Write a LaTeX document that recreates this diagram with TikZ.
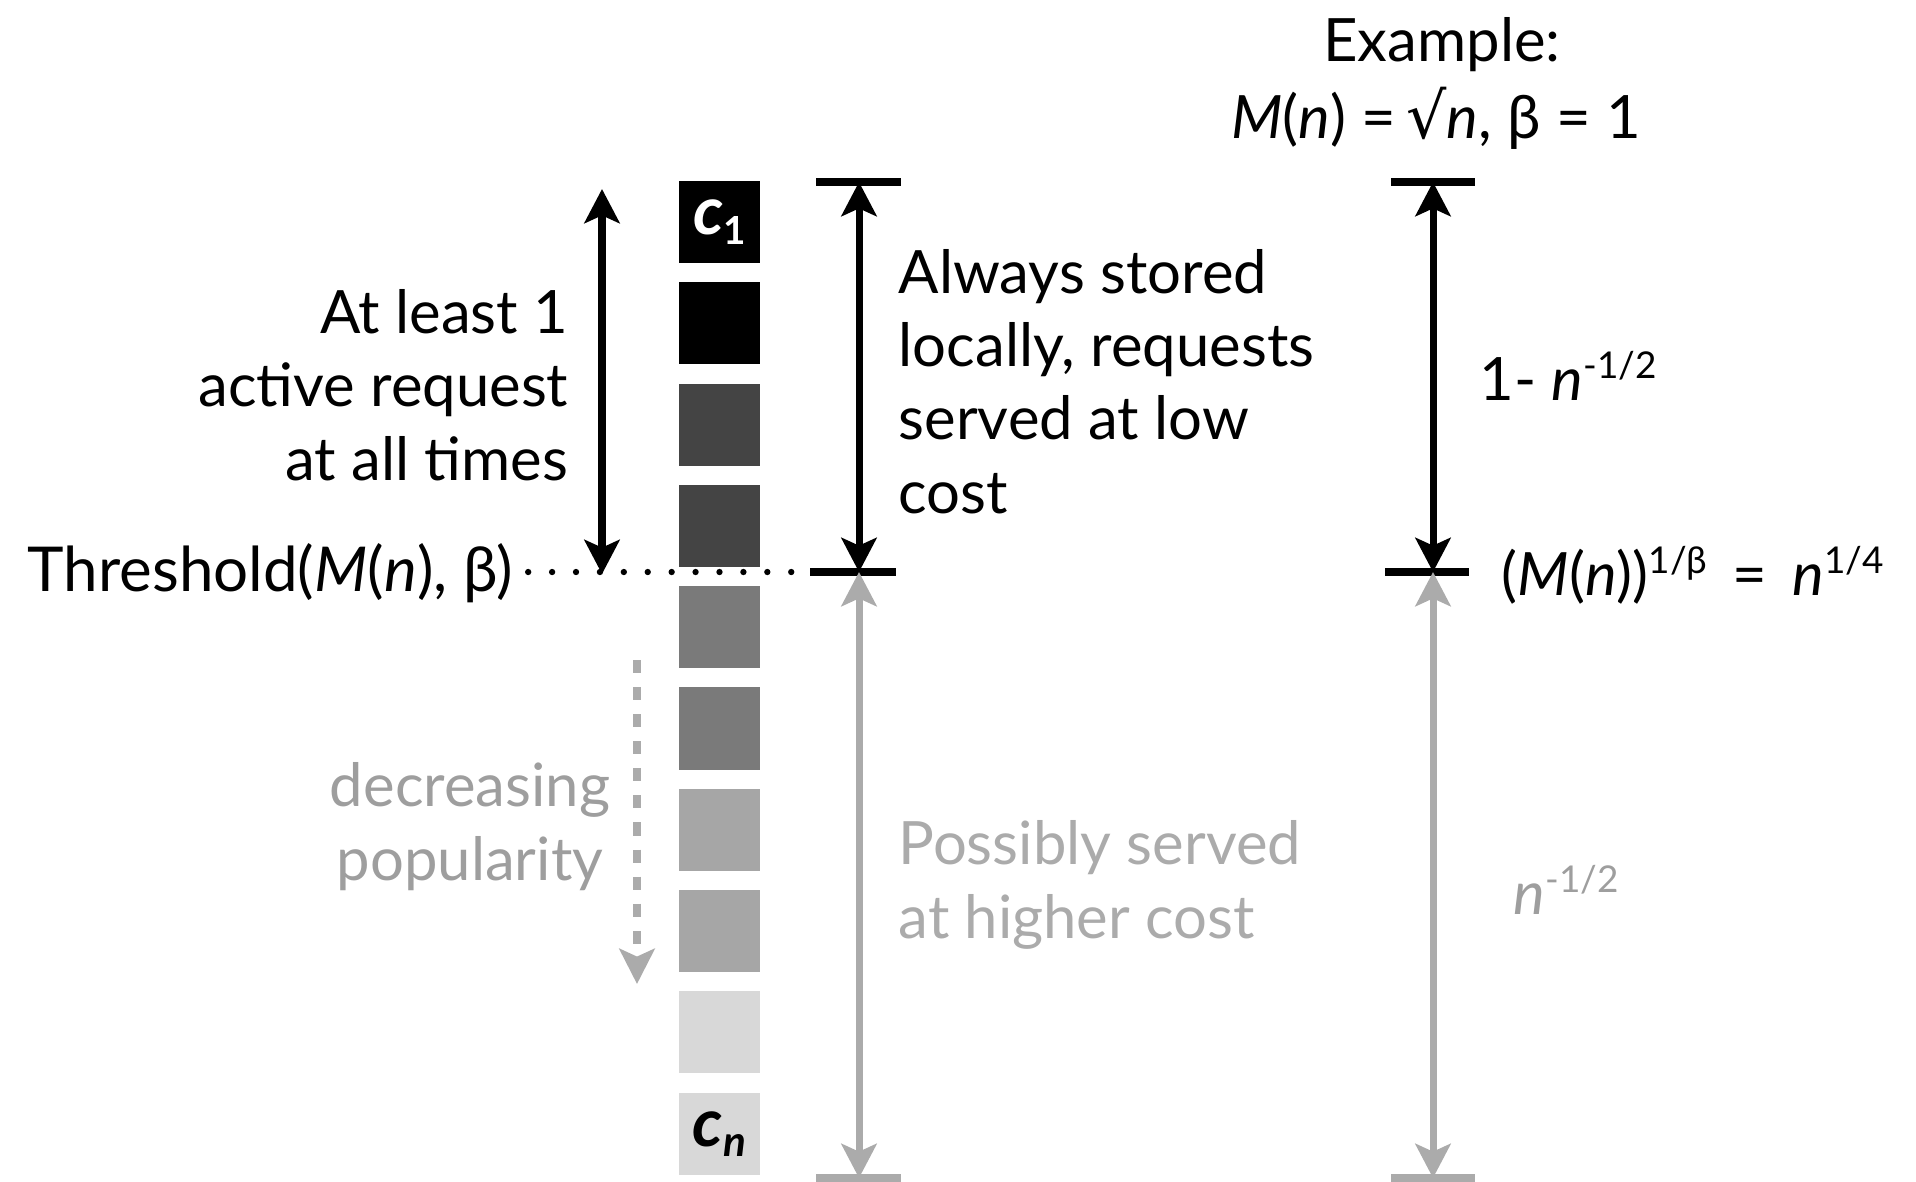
\documentclass[tikz,border=0pt]{standalone}
\usepackage{fontspec}
\setmainfont{Lato}
\newfontfamily\djv{DejaVu Sans}
\usetikzlibrary{arrows.meta}
\definecolor{sqA}{HTML}{000000}
\definecolor{sqB}{HTML}{444444}
\definecolor{sqC}{HTML}{7A7A7A}
\definecolor{sqD}{HTML}{A6A6A6}
\definecolor{sqE}{HTML}{D8D8D8}
\definecolor{lightline}{HTML}{ABABAB}
\definecolor{lighttext}{HTML}{9E9E9E}
\newcommand{\mysup}[1]{\raisebox{0.36em}{\fontsize{10.5}{12}\selectfont #1}}
\tikzset{
  sq/.style={minimum width=0.81cm, minimum height=0.82cm, inner sep=0pt, draw=none},
  bigtext/.style={font=\fontsize{17}{20.8}\selectfont, inner sep=0pt},
  bar/.style={line width=2.2pt},
  tip/.style={},
  blackarrow/.style={line width=2pt, {Stealth[length=9.7pt,width=10pt,inset=2.2pt]}-{Stealth[length=9.7pt,width=10pt,inset=2.2pt]}},
  grayarrow/.style={line width=2pt, draw=lightline, {Stealth[length=9.7pt,width=10pt,inset=2.2pt]}-{Stealth[length=9.7pt,width=10pt,inset=2.2pt]}},
  dotline/.style={line width=1.8pt, line cap=round, dash pattern=on 0pt off 6.8pt},
}
\begin{document}
\begin{tikzpicture}[x=0.01cm, y=-0.01cm]
\useasboundingbox (0,0) rectangle (1916,1181);

% squares
\node[sq, fill=sqA] (s1) at (719.5,222) {\bfseries\itshape\fontsize{19}{20}\selectfont\color{white}c\raisebox{-0.15em}{\upshape\fontsize{11}{12}\selectfont 1}};
\node[sq, fill=sqA] (s2) at (719.5,323.3) {};
\node[sq, fill=sqB] (s3) at (719.5,424.6) {};
\node[sq, fill=sqB] (s4) at (719.5,525.9) {};
\node[sq, fill=sqC] (s5) at (719.5,627.2) {};
\node[sq, fill=sqC] (s6) at (719.5,728.5) {};
\node[sq, fill=sqD] (s7) at (719.5,829.8) {};
\node[sq, fill=sqD] (s8) at (719.5,931.1) {};
\node[sq, fill=sqE] (s9) at (719.5,1032.4) {};
\node[sq, fill=sqE] (s10) at (719.5,1133.7) {\bfseries\itshape\fontsize{19}{20}\selectfont c\raisebox{-0.15em}{\fontsize{12}{12}\selectfont n}};

% coordinates for brackets
\coordinate (lt) at (602,189);
\coordinate (lb) at (602,574);
\coordinate (mt) at (859,182);
\coordinate (mm) at (859,572);
\coordinate (mb) at (859,1178);
\coordinate (rt) at (1433,182);
\coordinate (rm) at (1433,572);
\coordinate (rb) at (1433,1178);
\coordinate (dt) at (637,660);
\coordinate (db) at (637,984);

% bars
\draw[bar] (816,182) -- (901,182);
\draw[bar] (810,572) -- (896,572);
\draw[bar, draw=lightline] (816,1178) -- (901,1178);
\draw[bar] (1391,182) -- (1475,182);
\draw[bar] (1385,572) -- (1469,572);
\draw[bar, draw=lightline] (1391,1178) -- (1475,1178);

% arrows
\draw[blackarrow] (lt) -- (lb);
\draw[blackarrow] (mt) -- (mm);
\draw[grayarrow] (mm) -- (mb);
\draw[blackarrow] (rt) -- (rm);
\draw[grayarrow] (rm) -- (rb);
\draw[line width=2.2pt, draw=lightline, dash pattern=on 3.7pt off 4pt, -{Stealth[length=10pt,width=10pt,inset=2.2pt]}] (dt) -- (db);

% texts
\node[bigtext, anchor=base] (ex) at (1442,61) {Example:};
\node[bigtext, anchor=base] (ex2) at (1436,138) {\textit{M}(\textit{n}) =\,{\djv\fontsize{18}{20}\selectfont √}\textit{n}, β = 1};
\node[bigtext, anchor=base east, align=right] (al) at (569,480) {At least 1\\active request\\at all times};
\node[bigtext, anchor=base west, align=left] (as) at (898,513) {Always stored\\locally, requests\\served at low\\cost};
\node[bigtext, anchor=base west] (one) at (1479,400) {1- \textit{n}\mysup{-1/2}};
\node[bigtext, anchor=base west] (thr) at (27,591) {\fontsize{17.6}{20.8}\selectfont Threshold(\textit{M}(\textit{n}), β)};
\node[bigtext, anchor=base west] (mb2) at (1501,595) {(\textit{M}(\textit{n}))\mysup{1/β} \,=\, \textit{n}\mysup{1/4}};
\node[bigtext, anchor=base, align=center, text=lighttext] (dp) at (470,880) {decreasing\\popularity};
\node[bigtext, anchor=base west, align=left, text=lightline] (ps) at (898,938) {Possibly served\\at higher cost};
\node[bigtext, anchor=base west, text=lighttext] (nn) at (1513,914) {\textit{n}\mysup{-1/2}};

% dotted threshold line
\coordinate (dotend) at (794,572);
\draw[dotline] ([xshift=4pt]thr.east |- mm) -- (dotend);
\end{tikzpicture}
\end{document}
